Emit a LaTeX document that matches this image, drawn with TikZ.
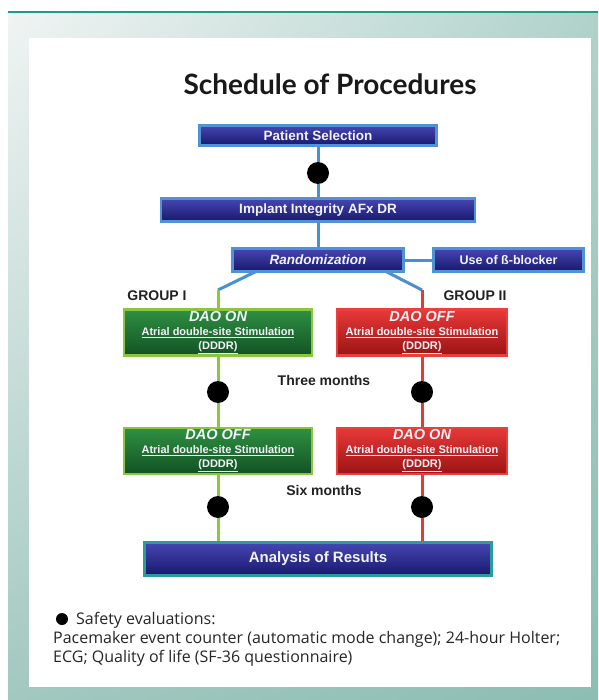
\documentclass[tikz,border=0pt]{standalone}
\usepackage{fontspec}
\usetikzlibrary{shadings}
\setmainfont{Liberation Sans}
\newfontfamily\titlefont{Lato}
\newfontfamily\notefont{Open Sans}
\definecolor{bgUL}{HTML}{F0F4F3}
\definecolor{bgUR}{HTML}{B0D2CB}
\definecolor{bgLL}{HTML}{A2C8C0}
\definecolor{bgLR}{HTML}{8DBDB3}
\definecolor{tealline}{HTML}{1A9E84}
\definecolor{blueT}{HTML}{4646B2}
\definecolor{blueB}{HTML}{18186E}
\definecolor{blueEdge}{HTML}{4F93D6}
\definecolor{greenT}{HTML}{2F9042}
\definecolor{greenB}{HTML}{125224}
\definecolor{greenEdge}{HTML}{8CC63E}
\definecolor{redT}{HTML}{E83838}
\definecolor{redB}{HTML}{9C1414}
\definecolor{redEdge}{HTML}{E8403A}
\definecolor{arEdge}{HTML}{2A9C9C}
\definecolor{lineBlue}{HTML}{4A90D0}
\definecolor{lineGreen}{HTML}{8DC63F}
\definecolor{lineRed}{HTML}{E53935}
\definecolor{labText}{HTML}{222222}
\definecolor{boxText}{HTML}{F2F2F8}
\pgfdeclarelayer{back}
\pgfdeclarelayer{bg}
\pgfsetlayers{back,bg,main}
\begin{document}
\begin{tikzpicture}[x=1pt,y=-1pt,
  boxbase/.style={rectangle, inner sep=0pt, line width=2.5pt, text=boxText, align=center},
  bluebox/.style={boxbase, draw=blueEdge, top color=blueT, bottom color=blueB,
     font=\bfseries\fontsize{13.5}{14}\selectfont},
  greenbox/.style={boxbase, draw=greenEdge, top color=greenT, bottom color=greenB,
     font=\bfseries\fontsize{11}{14}\selectfont, minimum width=188pt, minimum height=46pt},
  redbox/.style={boxbase, draw=redEdge, top color=redT, bottom color=redB,
     font=\bfseries\fontsize{11}{14}\selectfont, minimum width=170pt, minimum height=46pt},
  dot/.style={circle, fill=black, minimum size=22pt, inner sep=0pt},
  lab/.style={text=labText, font=\bfseries\fontsize{14}{16}\selectfont, inner sep=0pt},
  note/.style={font=\notefont\fontsize{16}{18}\selectfont, text=black!85, inner sep=0pt, anchor=base west},
  blueline/.style={draw=lineBlue, line width=3pt},
  greenline/.style={draw=lineGreen, line width=3pt},
  redline/.style={draw=lineRed, line width=3pt}
]
\useasboundingbox (0,0) rectangle (598,700);
\begin{pgfonlayer}{back}
\fill[white] (0,0) rectangle (598,700);
\shade[upper left=bgUL, upper right=bgUR, lower left=bgLL, lower right=bgLR] (8,12) rectangle (598,700);
\draw[tealline, line width=1.5pt] (8,12) -- (598,12);
\fill[white] (29,38) rectangle (591,687);
\end{pgfonlayer}

\node[font=\titlefont\bfseries\fontsize{28}{30}\selectfont, text=black!90, inner sep=0pt] (title) at (330,84) {Schedule of Procedures};

\node[bluebox, minimum width=237pt, minimum height=20pt] (ps) at (318,135.5) {Patient Selection};
\node[dot] (d1) at (318,173) {};
\node[bluebox, minimum width=314pt, minimum height=23pt] (ii) at (318,210) {Implant Integrity AFx DR};
\node[bluebox, minimum width=171pt, minimum height=23pt] (rand) at (318,260) {\itshape Randomization};
\node[bluebox, minimum width=150pt, minimum height=23pt, font=\bfseries\fontsize{12.5}{14}\selectfont] (blk) at (508.5,260) {Use of ß-blocker};

\node[lab] (gi) at (157,296) {GROUP I};
\node[lab] (gii) at (475,296) {GROUP II};

\node[greenbox] (g1) at (218,332.5) {{\fontsize{14.5}{14}\selectfont\itshape DAO ON}\\\underline{Atrial double-site Stimulation}\\\underline{(DDDR)}};
\node[redbox] (r1) at (422,332.5) {{\fontsize{14.5}{14}\selectfont\itshape DAO OFF}\\\underline{Atrial double-site Stimulation}\\\underline{(DDDR)}};

\node[dot] (dg1) at (218,392) {};
\node[dot] (dr1) at (422,392) {};
\node[lab] (tm) at (324,380) {Three months};

\node[greenbox] (g2) at (218,451) {{\fontsize{14.5}{14}\selectfont\itshape DAO OFF}\\\underline{Atrial double-site Stimulation}\\\underline{(DDDR)}};
\node[redbox] (r2) at (422,451) {{\fontsize{14.5}{14}\selectfont\itshape DAO ON}\\\underline{Atrial double-site Stimulation}\\\underline{(DDDR)}};

\node[lab] (sm) at (324,490) {Six months};
\node[dot] (dg2) at (218,507) {};
\node[dot] (dr2) at (422,507) {};

\node[bluebox, draw=arEdge, minimum width=347pt, minimum height=33pt, font=\bfseries\fontsize{15}{16}\selectfont] (ar) at (318,559) {Analysis of Results};

\coordinate (rl) at (257,271);
\coordinate (gl) at (218,290);
\coordinate (rr) at (385,271);
\coordinate (gr) at (422,290);

\begin{pgfonlayer}{bg}
\draw[blueline] (ps) -- (d1);
\draw[blueline] (d1) -- (ii);
\draw[blueline] (ii) -- (rand);
\draw[blueline] (rand) -- (blk);
\draw[blueline] (rl) -- (gl);
\draw[blueline] (rr) -- (gr);
\draw[greenline] (gl) -- (g1);
\draw[greenline] (g1) -- (dg1);
\draw[greenline] (dg1) -- (g2);
\draw[greenline] (g2) -- (dg2);
\draw[greenline] (dg2) -- (dg2 |- ar.north);
\draw[redline] (gr) -- (r1);
\draw[redline] (r1) -- (dr1);
\draw[redline] (dr1) -- (r2);
\draw[redline] (r2) -- (dr2);
\draw[redline] (dr2) -- (dr2 |- ar.north);
\end{pgfonlayer}

\node[circle, fill=black, minimum size=12pt, inner sep=0pt] (bul) at (62,619) {};
\node[note] (n1) at (76,624) {Safety evaluations:};
\node[note] (n2) at (53,643) {Pacemaker event counter (automatic mode change); 24-hour Holter;};
\node[note] (n3) at (53,662) {ECG; Quality of life (SF-36 questionnaire)};
\end{tikzpicture}
\end{document}
